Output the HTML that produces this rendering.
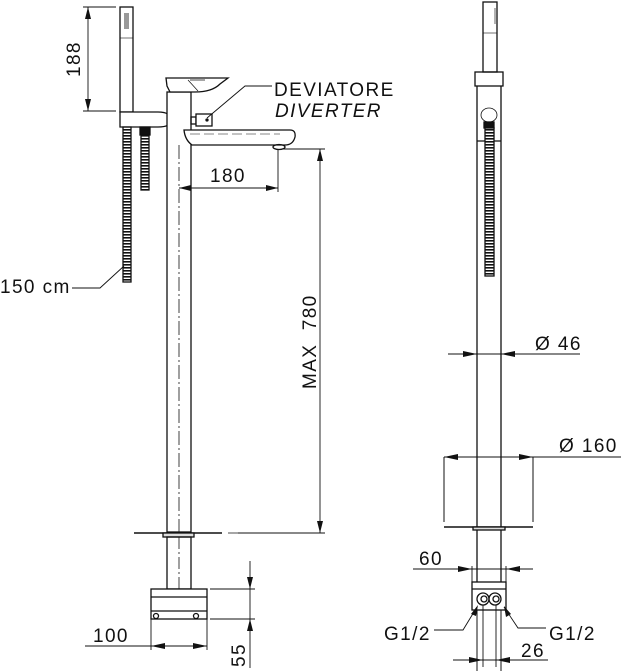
<!DOCTYPE html>
<html><head><meta charset="utf-8"><style>
html,body{margin:0;padding:0;background:#fff;}
svg{display:block;}
text{font-family:"Liberation Sans",sans-serif;fill:#111;font-size:19px;letter-spacing:1.4px;}
</style></head><body>
<svg width="622" height="671" viewBox="0 0 622 671" xmlns="http://www.w3.org/2000/svg">
<defs>
<pattern id="coil" width="10" height="3" patternUnits="userSpaceOnUse">
<rect width="10" height="3" fill="#fff"/><rect y="0" width="10" height="1.6" fill="#111"/>
</pattern>
</defs>
<g stroke="#111" stroke-width="1.3" fill="none">
<rect x="120" y="7" width="13" height="105"/>
<rect x="124" y="13" width="5" height="16" fill="#999" stroke="none"/>
<line x1="120" y1="38" x2="133" y2="38" stroke-width="0.6"/>
<path d="M120 112 H158 Q171 112 171 120 Q171 127 158 127 H120 Z" fill="#fff"/>
<rect x="167" y="92" width="24" height="440" fill="#fff"/>
<line x1="179" y1="145" x2="179" y2="532" stroke-dasharray="14,3,2,3" stroke-width="0.8"/>
<path d="M166 78 L167 86 L170 92 L195 92 Q212 92 220 84 L228 78 Z" fill="#fff"/>
<path d="M188 80 L198 91 M190 80 L205 80" stroke-width="0.7"/>
<rect x="191" y="117" width="5" height="7"/>
<rect x="196" y="114" width="16" height="12" fill="#fff"/>
<circle cx="207" cy="120" r="1" fill="#111"/>
<polyline points="207,118 245,86 272,86" stroke-width="0.9"/>
<path d="M184 130 H290 Q296 130 295 137 Q293 145 285 145 H192 Q185 140 184 130 Z" fill="#fff"/>
<line x1="190" y1="134" x2="280" y2="134" stroke-dasharray="10,4" stroke-width="0.6"/>
<ellipse cx="279" cy="147" rx="6" ry="2.5"/>
<rect x="123" y="127" width="8" height="155" fill="url(#coil)"/>
<rect x="140" y="127" width="10" height="8" fill="#111"/>
<rect x="141" y="135" width="8" height="55" fill="url(#coil)"/>
<line x1="134" y1="533" x2="222" y2="533" stroke-width="1.6"/>
<rect x="163" y="533" width="31" height="4" fill="#ddd"/>
<line x1="228" y1="533" x2="280" y2="533" stroke-width="0.8"/>
<rect x="167" y="537" width="24" height="52"/>
<line x1="179" y1="537" x2="179" y2="596" stroke-dasharray="12,3,2,3" stroke-width="0.8"/>
<rect x="151" y="589" width="56" height="30" fill="#fff"/>
<line x1="151" y1="597" x2="207" y2="597"/>
<line x1="151" y1="611" x2="207" y2="611"/>
<circle cx="156" cy="616" r="2.5"/><circle cx="196" cy="616" r="2.5"/>
</g>
<g stroke="#111" stroke-width="0.9" fill="none">
<line x1="83" y1="7" x2="116" y2="7"/><line x1="83" y1="111" x2="116" y2="111"/>
<line x1="88" y1="7" x2="88" y2="111"/>
<line x1="278" y1="150" x2="278" y2="192"/>
<line x1="179" y1="188" x2="278" y2="188"/>
<line x1="282" y1="149" x2="325" y2="149"/>
<line x1="238" y1="533" x2="325" y2="533"/>
<line x1="320" y1="149" x2="320" y2="533"/>
<line x1="151" y1="619" x2="151" y2="650"/><line x1="207" y1="619" x2="207" y2="650"/>
<line x1="85" y1="646" x2="207" y2="646"/>
<line x1="210" y1="589" x2="255" y2="589"/><line x1="210" y1="619" x2="255" y2="619"/>
<line x1="250" y1="561" x2="250" y2="668"/>
<polyline points="72,288 100,288 124,266"/>
</g>
<g fill="#111" stroke="none">
<polygon points="88,7 85,19 91,19"/><polygon points="88,111 85,99 91,99"/>
<polygon points="179,188 191,185 191,191"/><polygon points="278,188 266,185 266,191"/>
<polygon points="320,149 317,161 323,161"/><polygon points="320,533 317,521 323,521"/>
<polygon points="151,646 165,643 165,649"/><polygon points="207,646 193,643 193,649"/>
<polygon points="250,589 247,577 253,577"/><polygon points="250,619 247,631 253,631"/>
</g>
<text transform="translate(80,77) rotate(-90)">188</text>
<text x="274" y="96">DEVIATORE</text>
<text x="275" y="117" font-style="italic">DIVERTER</text>
<text x="210" y="182">180</text>
<text transform="translate(316,389) rotate(-90)" xml:space="preserve">MAX  780</text>
<text x="0" y="293">150 cm</text>
<text x="93" y="642">100</text>
<text transform="translate(245,667) rotate(-90)">55</text>

<g stroke="#111" stroke-width="1.3" fill="none">
<rect x="483" y="2" width="14" height="70" fill="#fff"/>
<line x1="483" y1="33" x2="497" y2="33" stroke-width="0.6"/>
<line x1="495" y1="8" x2="495" y2="24" stroke="#999" stroke-width="1.5"/>
<rect x="475" y="72" width="28" height="14"/>
<line x1="477" y1="86" x2="477" y2="527"/>
<line x1="501" y1="86" x2="501" y2="527"/>
<line x1="477" y1="141" x2="501" y2="141"/>
<ellipse cx="489" cy="115" rx="8" ry="7" stroke-width="0.8"/>
<rect x="484" y="122" width="10" height="6" fill="#111"/>
<rect x="485" y="128" width="9" height="148" fill="url(#coil)"/>
<line x1="444" y1="457" x2="444" y2="522" stroke-width="1"/>
<line x1="533" y1="457" x2="533" y2="522" stroke-width="1"/>
<line x1="444" y1="527" x2="533" y2="527" stroke-width="1.6"/>
<rect x="473" y="527" width="32" height="3" fill="#ddd"/>
<line x1="477" y1="530" x2="477" y2="582"/><line x1="501" y1="530" x2="501" y2="582"/>
<rect x="472" y="582" width="34" height="28" fill="#fff"/>
<line x1="472" y1="589" x2="506" y2="589"/>
<circle cx="483" cy="599" r="6"/><circle cx="484" cy="599" r="3"/>
<circle cx="495" cy="599" r="6"/><circle cx="496" cy="599" r="3"/>
<line x1="477" y1="610" x2="477" y2="671" stroke-width="1"/>
<line x1="501" y1="610" x2="501" y2="671" stroke-width="1"/>
</g>
<g stroke="#111" stroke-width="0.9" fill="none">
<line x1="448" y1="354" x2="580" y2="354"/>
<line x1="444" y1="457" x2="621" y2="457"/>
<line x1="472" y1="566" x2="472" y2="582"/><line x1="506" y1="566" x2="506" y2="582"/>
<line x1="413" y1="569" x2="533" y2="569"/>
<polyline points="434,630 463,630 477,607"/>
<polyline points="546,628 518,628 504,607"/>
<line x1="483" y1="605" x2="483" y2="667"/><line x1="496" y1="605" x2="496" y2="667"/>
<line x1="453" y1="660" x2="548" y2="660"/>
</g>
<g fill="#111" stroke="none">
<polygon points="477,354 463,351 463,357"/><polygon points="501,354 515,351 515,357"/>
<polygon points="444,457 458,454 458,460"/><polygon points="533,457 519,454 519,460"/>
<polygon points="472,569 458,566 458,572"/><polygon points="506,569 520,566 520,572"/>
<polygon points="478,605 471,614 476,616"/><polygon points="504,606 506,617 511,614"/>
<polygon points="483,660 469,657 469,663"/><polygon points="496,660 510,657 510,663"/>
</g>
<text x="535" y="350">Ø 46</text>
<text x="559" y="452">Ø 160</text>
<text x="419" y="565">60</text>
<text x="384" y="640">G1/2</text>
<text x="549" y="640">G1/2</text>
<text x="521" y="657">26</text>
</svg>
</body></html>
